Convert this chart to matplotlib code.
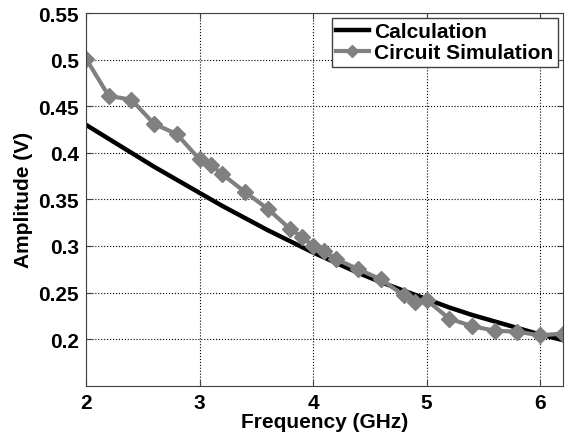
import matplotlib.pyplot as plt

plt.rcParams['font.family'] = ['Liberation Sans', 'DejaVu Sans']
plt.rcParams['font.weight'] = 'bold'

# Calculation curve (GHz, V)
calc_freq = [2.0, 2.2, 2.4, 2.6, 2.8, 3.0, 3.2, 3.4, 3.6, 3.8, 4.0,
             4.2, 4.4, 4.6, 4.8, 5.0, 5.2, 5.4, 5.6, 5.8, 6.0, 6.2]
calc_amp = [0.430, 0.415, 0.400, 0.385, 0.371, 0.357, 0.343, 0.330, 0.317, 0.305, 0.293,
            0.282, 0.271, 0.261, 0.252, 0.243, 0.234, 0.226, 0.219, 0.212, 0.205, 0.199]

# Circuit simulation points
sim_freq = [2.0, 2.2, 2.4, 2.6, 2.8, 3.0, 3.1, 3.2, 3.4, 3.6, 3.8, 3.9, 4.0,
            4.1, 4.2, 4.4, 4.6, 4.8, 4.9, 5.0, 5.2, 5.4, 5.6, 5.8, 6.0, 6.2]
sim_amp = [0.501, 0.461, 0.457, 0.431, 0.420, 0.393, 0.387, 0.377, 0.358, 0.340, 0.318, 0.310, 0.300,
           0.295, 0.286, 0.275, 0.264, 0.247, 0.240, 0.242, 0.222, 0.214, 0.209, 0.208, 0.204, 0.206]

xticks = [2, 3, 4, 5, 6]
yticks = [0.2, 0.25, 0.3, 0.35, 0.4, 0.45, 0.5, 0.55]
ytick_labels = ['0.2', '0.25', '0.3', '0.35', '0.4', '0.45', '0.5', '0.55']

fig = plt.figure(figsize=(5.68, 4.39), dpi=100)
ax = fig.add_axes([0.1514, 0.1191, 0.8393, 0.8490])

ax.plot(calc_freq, calc_amp, color='black', linewidth=3.2, label='Calculation')
ax.plot(sim_freq, sim_amp, color='#808080', linewidth=3, marker='D',
        markersize=8, label='Circuit Simulation')

ax.set_xlim(2, 6.2)
ax.set_ylim(0.15, 0.55)
ax.set_xticks(xticks)
ax.set_yticks(yticks)
ax.set_yticklabels(ytick_labels)
ax.tick_params(direction='in', top=True, right=True, labelsize=15, length=4,
               color='#404040', pad=5)
ax.grid(True, color='black', linestyle=':', linewidth=0.8)
for s in ax.spines.values():
    s.set_color('#404040')

ax.set_xlabel('Frequency (GHz)', fontsize=15, fontweight='bold', labelpad=0)
ax.set_ylabel('Amplitude (V)', fontsize=15, fontweight='bold', labelpad=4)

leg = ax.legend(loc='upper right', fontsize=15, fancybox=False, framealpha=1,
                edgecolor='#404040', borderaxespad=0.25, handlelength=1.6,
                borderpad=0.2, labelspacing=0.1, handletextpad=0.25,
                markerscale=0.8)
leg.get_frame().set_linewidth(1.0)

fig.savefig('out.png', dpi=100, facecolor='white')
